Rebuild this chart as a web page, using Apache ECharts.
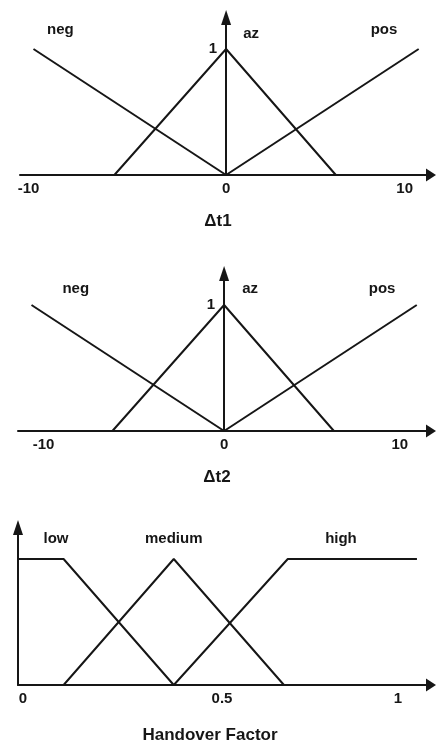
<!DOCTYPE html>
<html>
<head>
<meta charset="utf-8">
<script src="https://cdn.jsdelivr.net/npm/echarts@6/dist/echarts.min.js"></script>
<style>
  html, body { margin: 0; padding: 0; background: #ffffff; }
  #chart { width: 436px; height: 748px; }
</style>
</head>
<body>
<div id="chart"></div>
<script>
// Fuzzy membership functions: Δt1, Δt2 and the handover factor
const dt1Neg = [[-10, 1], [0, 0]];
const dt1Az  = [[-5.8, 0], [0, 1], [5.7, 0]];
const dt1Pos = [[0, 0], [10, 1]];

const dt2Neg = [[-10, 1], [0, 0]];
const dt2Az  = [[-5.8, 0], [0, 1], [5.7, 0]];
const dt2Pos = [[0, 0], [10, 1]];

const hfLow    = [[0, 1], [0.12, 1], [0.41, 0]];
const hfMedium = [[0.12, 0], [0.41, 1], [0.70, 0]];
const hfHigh   = [[0.41, 0], [0.71, 1], [1.05, 1]];

const dtTicks = [-10, 0, 10];
const hfTicks = [0, 0.5, 1];
const dtSetNames = ['neg', 'az', 'pos'];
const hfSetNames = ['low', 'medium', 'high'];
const axisTitles = ['Δt1', 'Δt2', 'Handover Factor'];

const INK = '#161616';
const FONT = 'Liberation Sans';

const grids = [
  { left: 20, top: 17.5, width: 411, height: 157.5 },
  { left: 18, top: 273.5, width: 413, height: 157.5 },
  { left: 18, top: 527.5, width: 413, height: 157.5 }
];

// horizontal nudge (px) for individual tick labels
function tickRich(ticks, shifts) {
  const rich = {};
  ticks.forEach((t, k) => {
    const d = shifts[k] || 0;
    rich['t' + k] = {
      fontFamily: FONT, fontSize: 15, fontWeight: 'bold', color: INK,
      padding: d >= 0 ? [0, 0, 0, 2 * d] : [0, -2 * d, 0, 0]
    };
  });
  return rich;
}

function xAxisFor(i, min, max, ticks, shifts, title, nameShift, nameGap) {
  return {
    type: 'value', gridIndex: i, min: min, max: max,
    splitLine: { show: false },
    axisTick: { show: false },
    axisLine: {
      onZero: true,
      symbol: ['none', 'triangle'],
      symbolSize: [13, 10],
      lineStyle: { color: INK, width: 2 }
    },
    axisLabel: {
      customValues: ticks,
      margin: 6,
      formatter: function (v) {
        const k = ticks.indexOf(v);
        return k < 0 ? '' : '{t' + k + '|' + String(v) + '}';
      },
      rich: tickRich(ticks, shifts)
    },
    name: title,
    nameLocation: 'middle',
    nameGap: nameGap,
    nameTextStyle: {
      fontFamily: FONT, fontSize: 17, fontWeight: 'bold', color: INK,
      padding: nameShift >= 0 ? [0, 0, 0, 2 * nameShift] : [0, -2 * nameShift, 0, 0]
    }
  };
}

// the vertical axis sits at x = 0; offset carries its label along with it
function yAxisFor(i, showOne, offset) {
  return {
    type: 'value', gridIndex: i, min: 0, max: 1.25,
    offset: offset,
    splitLine: { show: false },
    axisTick: { show: false },
    axisLine: {
      onZero: false,
      symbol: ['none', 'triangle'],
      symbolSize: [10, 15],
      lineStyle: { color: INK, width: 2 }
    },
    axisLabel: {
      show: showOne,
      customValues: [1],
      margin: 9,
      fontFamily: FONT, fontSize: 15, fontWeight: 'bold', color: INK,
      formatter: function (v) { return v === 1 ? '1' : ''; }
    }
  };
}

function mfSeries(i, data, name, at) {
  return {
    type: 'line', xAxisIndex: i, yAxisIndex: i,
    data: data, symbol: 'none', silent: true,
    lineStyle: { color: INK, width: 2 },
    markPoint: {
      symbol: 'circle', symbolSize: 0, silent: true,
      data: [{ name: name, coord: at }],
      label: {
        show: true, position: 'inside',
        formatter: function (p) { return p.name; },
        fontFamily: FONT, fontSize: 15, fontWeight: 'bold', color: INK
      }
    }
  };
}

const option = {
  backgroundColor: '#ffffff',
  animation: false,
  grid: grids,
  xAxis: [
    xAxisFor(0, -10.7, 10.64, dtTicks, [-5, 0, -14], axisTitles[0], -7.5, 38),
    xAxisFor(1, -10.7, 10.74, dtTicks, [12, 0, -17], axisTitles[1], -7.5, 38),
    xAxisFor(2, 0, 1.087, hfTicks, [5, 14, 0], axisTitles[2], -14.5, 42)
  ],
  yAxis: [
    yAxisFor(0, true, -206.1),
    yAxisFor(1, true, -206.1),
    yAxisFor(2, false, 0)
  ],
  series: [
    mfSeries(0, dt1Neg, dtSetNames[0], [-8.6, 1.15]),
    mfSeries(0, dt1Az,  dtSetNames[1], [1.3, 1.12]),
    mfSeries(0, dt1Pos, dtSetNames[2], [8.2, 1.15]),
    mfSeries(1, dt2Neg, dtSetNames[0], [-7.7, 1.13]),
    mfSeries(1, dt2Az,  dtSetNames[1], [1.35, 1.13]),
    mfSeries(1, dt2Pos, dtSetNames[2], [8.2, 1.13]),
    mfSeries(2, hfLow,    hfSetNames[0], [0.10, 1.16]),
    mfSeries(2, hfMedium, hfSetNames[1], [0.41, 1.16]),
    mfSeries(2, hfHigh,   hfSetNames[2], [0.85, 1.16])
  ]
};

const chart = echarts.init(document.getElementById('chart'), null, { renderer: 'canvas' });
chart.setOption(option);
</script>
</body>
</html>
